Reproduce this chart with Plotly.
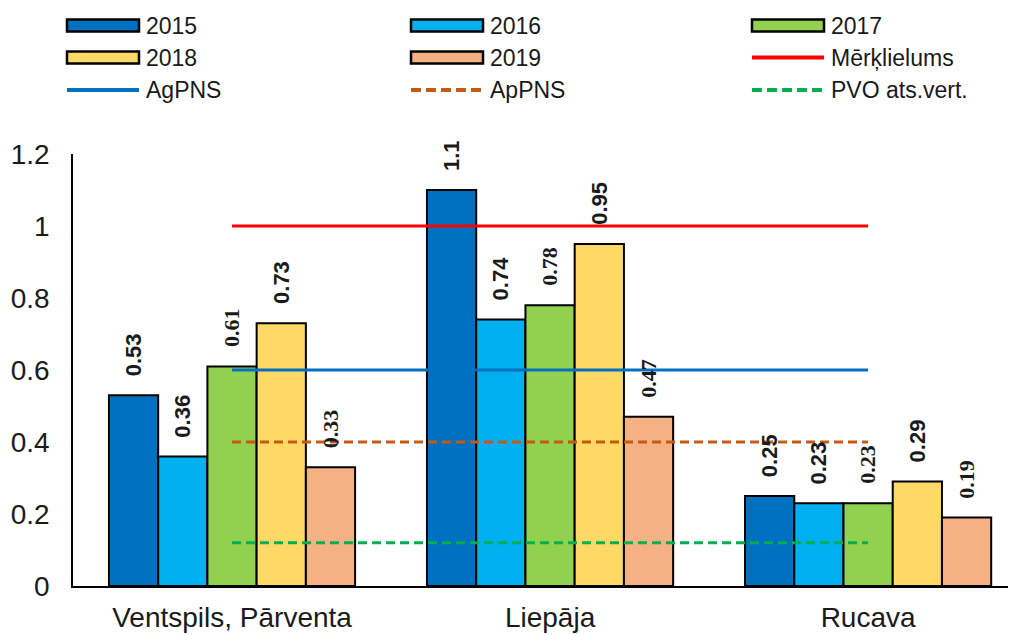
import plotly.graph_objects as go

# ---------------- data ----------------
categories = ["Ventspils, Pārventa", "Liepāja", "Rucava"]
years = ["2015", "2016", "2017", "2018", "2019"]
v2015 = [0.53, 1.1, 0.25]
v2016 = [0.36, 0.74, 0.23]
v2017 = [0.61, 0.78, 0.23]
v2018 = [0.73, 0.95, 0.29]
v2019 = [0.33, 0.47, 0.19]
merklielums = [1.0, 1.0, 1.0]
agpns = [0.6, 0.6, 0.6]
appns = [0.4, 0.4, 0.4]
pvo = [0.12, 0.12, 0.12]
y_tick_vals = [0, 0.2, 0.4, 0.6, 0.8, 1.0, 1.2]
y_tick_text = ["0", "0.2", "0.4", "0.6", "0.8", "1", "1.2"]

series_values = [v2015, v2016, v2017, v2018, v2019]
bar_colors = ["#0070C0", "#00B0F0", "#92D050", "#FFD966", "#F4B183"]
label_fonts = ["Liberation Sans", "Liberation Sans", "Liberation Serif",
               "Liberation Sans", "Liberation Serif"]

line_names = ["Mērķlielums", "AgPNS", "ApPNS", "PVO ats.vert."]
line_values = [merklielums, agpns, appns, pvo]
line_colors = ["#FF0000", "#0070C0", "#C55A11", "#00B050"]
line_dash = ["solid", "solid", "9px,5px", "9px,5px"]

# ---------------- layout geometry ----------------
# the page body has an 8px margin, so the figure is shifted by (8, 8)
OFF = 8
W, H = 1016 - OFF, 635 - OFF
ML, MR, MT = 73 - OFF, 0, 154 - OFF
PH = 432
MB = H - MT - PH
PW = W - ML - MR
BARGAP = 0.226
TEXT = "#1a1a1a"


def px2paper(x, y):
    """screen pixel -> paper coords (accounting for page offset)"""
    x -= OFF
    y -= OFF
    return (x - ML) / PW, (H - MB - y) / PH


fig = go.Figure()

for name, vals, col in zip(years, series_values, bar_colors):
    fig.add_trace(go.Bar(
        x=categories, y=vals, name=name,
        marker=dict(color=col, line=dict(color="black", width=2)),
        showlegend=False,
    ))

for name, vals, col, dash in zip(line_names, line_values, line_colors, line_dash):
    fig.add_trace(go.Scatter(
        x=categories, y=vals, name=name, mode="lines",
        line=dict(color=col, width=3, dash=dash),
        showlegend=False,
    ))

# value labels (rotated) above bars
bar_w = (1 - BARGAP) / len(years)
annotations = []
for i, (vals, fnt) in enumerate(zip(series_values, label_fonts)):
    off = (i - (len(years) - 1) / 2) * bar_w
    for j, v in enumerate(vals):
        annotations.append(dict(
            x=j + off, y=v, xref="x", yref="y",
            text=f"<b>{v:g}</b>", showarrow=False, textangle=-90,
            xanchor="center", yanchor="bottom", yshift=17,
            font=dict(family=fnt, size=22, color=TEXT),
        ))

# custom legend (3 columns x 3 rows)
legend_items = [
    ("bar", bar_colors[0], "solid", years[0]),
    ("bar", bar_colors[1], "solid", years[1]),
    ("bar", bar_colors[2], "solid", years[2]),
    ("bar", bar_colors[3], "solid", years[3]),
    ("bar", bar_colors[4], "solid", years[4]),
    ("line", line_colors[0], "solid", line_names[0]),
    ("line", line_colors[1], "solid", line_names[1]),
    ("line", line_colors[2], "dash", line_names[2]),
    ("line", line_colors[3], "dash", line_names[3]),
]
col_x = [67, 411, 752]
row_y = [25.5, 57.5, 90]
sym_w = 72
shapes = []
for k, (kind, col, dash, label) in enumerate(legend_items):
    cx = col_x[k % 3]
    cy = row_y[k // 3]
    if kind == "bar":
        x0, y0 = px2paper(cx, cy - 6)
        x1, y1 = px2paper(cx + sym_w, cy + 6)
        shapes.append(dict(type="rect", xref="paper", yref="paper",
                           x0=x0, y0=y0, x1=x1, y1=y1,
                           fillcolor=col, line=dict(color="black", width=2.5)))
    else:
        x0, y0 = px2paper(cx, cy)
        x1, _ = px2paper(cx + sym_w, cy)
        shapes.append(dict(type="line", xref="paper", yref="paper",
                           x0=x0, y0=y0, x1=x1, y1=y0,
                           line=dict(color=col, width=4,
                                     dash="solid" if dash == "solid" else "10px,5px")))
    tx, ty = px2paper(cx + sym_w + 5, cy)
    annotations.append(dict(x=tx, y=ty, xref="paper", yref="paper",
                            text=label, showarrow=False, xanchor="left",
                            yanchor="middle",
                            font=dict(family="Liberation Sans", size=23, color=TEXT)))

fig.update_layout(
    width=W, height=H,
    margin=dict(l=ML, r=MR, t=MT, b=MB),
    paper_bgcolor="white", plot_bgcolor="white",
    barmode="group", bargap=BARGAP, bargroupgap=0,
    showlegend=False,
    annotations=annotations, shapes=shapes,
    font=dict(family="Liberation Sans", color=TEXT),
)
fig.update_xaxes(
    range=[-0.5, 2.465], showline=True, linecolor="black", linewidth=1.5,
    ticks="", showgrid=False, zeroline=False,
    tickfont=dict(size=28, color=TEXT, family="Liberation Sans"),
    ticklabelstandoff=6,
)
fig.update_yaxes(
    range=[0, 1.2], tickvals=y_tick_vals, ticktext=y_tick_text,
    showline=True, linecolor="black", linewidth=1.5,
    ticks="", showgrid=False, zeroline=False,
    tickfont=dict(size=28, color=TEXT, family="Liberation Sans"),
    ticklabelstandoff=16,
)

fig.write_html("out.html")
